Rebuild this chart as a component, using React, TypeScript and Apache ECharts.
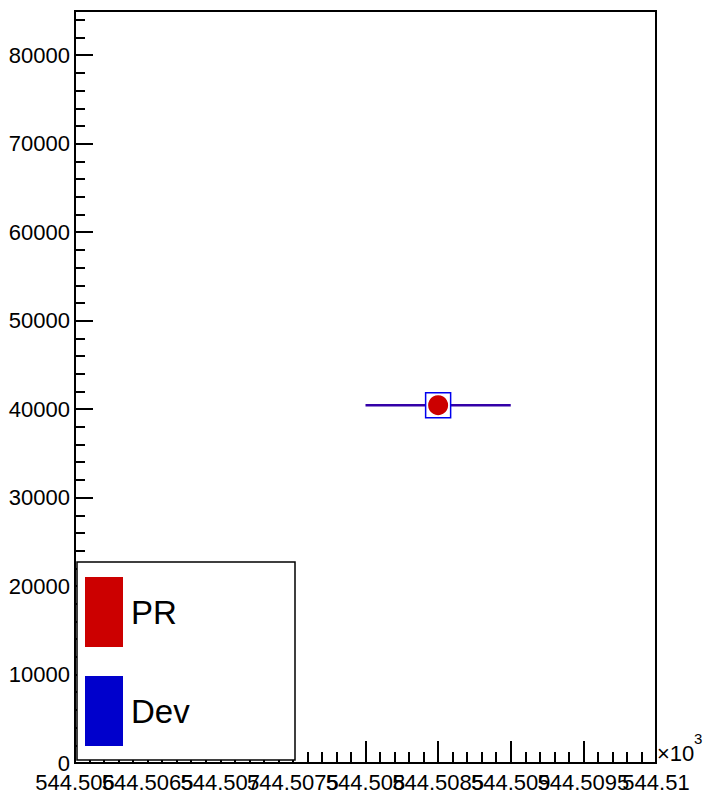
import React, { useEffect, useRef } from "react";
import * as echarts from "echarts";

// ---- data ----
const xRange = [544506, 544510];
const yRange = [0, 85000];
const seriesNames = ["PR", "Dev"];
const prPoints = [[544508.5, 40450]];
const devPoints = [[544508.5, 40450]];
const xErrLow = [544508];
const xErrHigh = [544509];
const seriesColors = ["#cc0000", "#0000cc"];

const FONT = "Liberation Sans, Arial, sans-serif";
const X_STEP = 0.5;

function fmtX(v: number): string {
  const s = (v / 1000).toFixed(4);
  return s.replace(/0+$/, "").replace(/\.$/, "");
}

// index of a tick from the axis minimum
function tickIndex(v: number): number {
  return Math.round((v - xRange[0]) / X_STEP);
}

export default function App() {
  const ref = useRef<HTMLDivElement>(null);
  useEffect(() => {
    if (!ref.current) return;
    const chart = echarts.init(ref.current, undefined, { renderer: "svg" });
    const errData: number[][] = [];
    xErrLow.forEach((lo, i) => {
      errData.push([lo, prPoints[i][1]]);
      errData.push([xErrHigh[i], prPoints[i][1]]);
    });
    const xLabelStyle = {
      show: true,
      fontFamily: FONT,
      fontSize: 22,
      color: "#000",
      margin: 8,
      hideOverlap: false,
      showMinLabel: true,
      showMaxLabel: true,
    };
    chart.setOption({
      animation: false,
      backgroundColor: "#ffffff",
      grid: {
        left: 75,
        top: 11,
        width: 581,
        height: 752,
        show: true,
        borderColor: "#000",
        borderWidth: 2,
        backgroundColor: "transparent",
        containLabel: false,
        outerBoundsMode: "none",
      },
      xAxis: [
        {
          type: "value",
          min: xRange[0],
          max: xRange[1],
          interval: X_STEP,
          position: "bottom",
          axisLine: { show: true, onZero: false, lineStyle: { color: "#000", width: 2 } },
          axisTick: { show: true, inside: true, length: 22, lineStyle: { color: "#000", width: 2 } },
          minorTick: { show: true, splitNumber: 5, length: 11, lineStyle: { color: "#000", width: 2 } },
          splitLine: { show: false },
          minorSplitLine: { show: false },
          axisLabel: {
            ...xLabelStyle,
            formatter: (v: number) => (tickIndex(v) % 2 === 0 ? fmtX(v) : ""),
          },
        },
        {
          type: "value",
          min: xRange[0],
          max: xRange[1],
          interval: X_STEP,
          position: "bottom",
          offset: 0,
          axisLine: { show: false, onZero: false },
          axisTick: { show: false },
          minorTick: { show: false },
          splitLine: { show: false },
          axisLabel: {
            ...xLabelStyle,
            formatter: (v: number) => (tickIndex(v) % 2 === 1 ? fmtX(v) : ""),
          },
        },
      ],
      yAxis: [
        {
          type: "value",
          min: yRange[0],
          max: yRange[1],
          interval: 10000,
          position: "left",
          axisLine: { show: true, onZero: false, lineStyle: { color: "#000", width: 2 } },
          axisTick: { show: true, inside: true, length: 18, lineStyle: { color: "#000", width: 2 } },
          splitLine: { show: false },
          axisLabel: {
            show: true,
            formatter: (v: number) => String(v),
            fontFamily: FONT,
            fontSize: 22,
            color: "#000",
            margin: 5,
            showMaxLabel: false,
            hideOverlap: false,
          },
        },
        {
          type: "value",
          min: yRange[0],
          max: yRange[1],
          interval: 2000,
          position: "left",
          offset: 0,
          axisLine: { show: false },
          axisTick: { show: true, inside: true, length: 10, lineStyle: { color: "#000", width: 2 } },
          splitLine: { show: false },
          axisLabel: { show: false },
        },
      ],
      legend: {
        show: true,
        orient: "vertical",
        left: 85,
        top: 577,
        padding: 0,
        itemWidth: 38,
        itemHeight: 70,
        itemGap: 29,
        z: 20,
        selectedMode: false,
        textStyle: { fontFamily: FONT, fontSize: 33, color: "#000", padding: [0, 0, 0, 3] },
        data: [
          { name: seriesNames[0], icon: "rect", itemStyle: { color: seriesColors[0], borderWidth: 0 } },
          { name: seriesNames[1], icon: "rect", itemStyle: { color: seriesColors[1], borderWidth: 0 } },
        ],
      },
      graphic: [
        {
          type: "rect",
          z: 10,
          shape: { x: 77, y: 562, width: 218, height: 198 },
          style: { fill: "#fff", stroke: "#000", lineWidth: 1.5 },
        },
        {
          type: "text",
          z: 10,
          left: 657,
          top: 742,
          style: { text: "×10", fontFamily: FONT, fontSize: 22, fill: "#000" },
        },
        {
          type: "text",
          z: 10,
          left: 694,
          top: 731,
          style: { text: "3", fontFamily: FONT, fontSize: 15, fill: "#000" },
        },
      ],
      series: [
        {
          name: "err",
          type: "line",
          data: errData,
          symbol: "none",
          z: 1,
          silent: true,
          lineStyle: { color: "#3300a8", width: 2.5 },
        },
        {
          name: seriesNames[1],
          type: "scatter",
          data: devPoints,
          symbol: "rect",
          symbolSize: 25,
          z: 2,
          itemStyle: { color: "#ffffff", borderColor: "#0000ee", borderWidth: 1.5, opacity: 1 },
        },
        {
          name: seriesNames[0],
          type: "scatter",
          data: prPoints,
          symbol: "circle",
          symbolSize: 20,
          z: 3,
          itemStyle: { color: seriesColors[0], opacity: 1 },
        },
      ],
    });
    return () => chart.dispose();
  }, []);
  return (
    <div
      ref={ref}
      style={{ position: "fixed", left: 0, top: 0, width: 706, height: 798, background: "#fff" }}
    />
  );
}
